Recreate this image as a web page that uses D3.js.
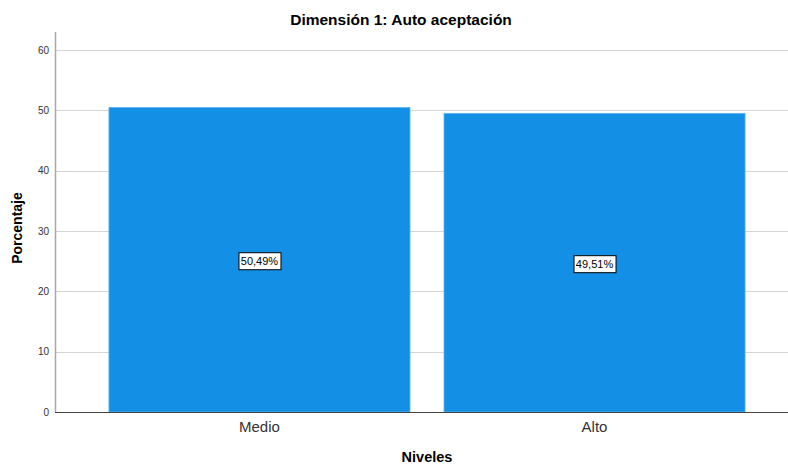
<!DOCTYPE html>
<html>
<head>
<meta charset="utf-8">
<script src="https://cdn.jsdelivr.net/npm/d3@7"></script>
<style>
  html, body { margin: 0; padding: 0; background: #fff; }
  svg { display: block; font-family: "Liberation Sans", Arial, sans-serif; }
</style>
</head>
<body>
<svg id="chart" width="788" height="464"></svg>
<script>
const categories = ["Medio", "Alto"];
const values = [50.49, 49.51];
const valueLabels = ["50,49%", "49,51%"];
const yTicks = [0, 10, 20, 30, 40, 50, 60];
const title = "Dimensión 1: Auto aceptación";
const xTitle = "Niveles";
const yTitle = "Porcentaje";

(function () {
const svg = d3.select("#chart");
const W = 788;
const plotLeft = 55, plotTop = 32, plotBottom = 412;

const x = d3.scaleBand().domain(categories).range([plotLeft, 799])
  .paddingInner(0.1015).paddingOuter(0.161);
const y = d3.scaleLinear().domain([0, 63]).range([plotBottom, plotTop]);

// gridlines
svg.append("g").selectAll("line").data(yTicks.filter(d => d > 0)).join("line")
  .attr("x1", plotLeft).attr("x2", W)
  .attr("y1", d => Math.round(y(d)) + 0.5).attr("y2", d => Math.round(y(d)) + 0.5)
  .attr("stroke", "#d4d4d4").attr("stroke-width", 1);

// bars
svg.append("g").selectAll("rect").data(categories).join("rect")
  .attr("x", d => x(d))
  .attr("y", (d, i) => y(values[i]))
  .attr("width", x.bandwidth())
  .attr("height", (d, i) => plotBottom - y(values[i]))
  .attr("fill", "#1390e6")
  .attr("stroke", "#5fb2ef").attr("stroke-width", 0.8);

// y axis line
svg.append("line").attr("x1", plotLeft + 0.5).attr("x2", plotLeft + 0.5)
  .attr("y1", plotTop).attr("y2", plotBottom).attr("stroke", "#a8a8a8").attr("stroke-width", 1.5);

// y tick labels
svg.append("g").selectAll("text").data(yTicks).join("text")
  .attr("x", plotLeft - 6).attr("y", d => y(d) + 3.5)
  .attr("text-anchor", "end").attr("font-size", 10).attr("fill", "#333")
  .text(d => d);

// x axis line
svg.append("line").attr("x1", plotLeft).attr("x2", W)
  .attr("y1", plotBottom + 0.5).attr("y2", plotBottom + 0.5)
  .attr("stroke", "#444").attr("stroke-width", 1.2);

// x tick labels
svg.append("g").selectAll("text").data(categories).join("text")
  .attr("x", d => x(d) + x.bandwidth() / 2).attr("y", 432)
  .attr("text-anchor", "middle").attr("font-size", 15).attr("fill", "#333")
  .text(d => d);

// value labels
const lg = svg.append("g").selectAll("g").data(categories).join("g")
  .attr("transform", (d, i) => `translate(${x(d) + x.bandwidth() / 2},${(y(values[i]) + plotBottom) / 2 + 1.5})`);
lg.each(function (d, i) {
  const g = d3.select(this);
  const t = g.append("text").attr("text-anchor", "middle").attr("y", 4)
    .attr("font-size", 11).attr("fill", "#000").text(valueLabels[i]);
  const bb = t.node().getBBox();
  g.insert("rect", "text")
    .attr("x", Math.round(bb.x - 2) + 0.5).attr("y", -8.5)
    .attr("width", Math.round(bb.width + 4)).attr("height", 17)
    .attr("fill", "#fff").attr("stroke", "#000").attr("stroke-width", 1);
});

// titles
svg.append("text").attr("x", 401).attr("y", 25).attr("text-anchor", "middle")
  .attr("font-size", 15.5).attr("font-weight", "bold").attr("fill", "#000").text(title);
svg.append("text").attr("x", 427).attr("y", 462).attr("text-anchor", "middle")
  .attr("font-size", 14.5).attr("font-weight", "bold").attr("fill", "#000").text(xTitle);
svg.append("text").attr("transform", "translate(22,228) rotate(-90)").attr("text-anchor", "middle")
  .attr("font-size", 14).attr("font-weight", "bold").attr("fill", "#000").text(yTitle);
})();
</script>
</body>
</html>
